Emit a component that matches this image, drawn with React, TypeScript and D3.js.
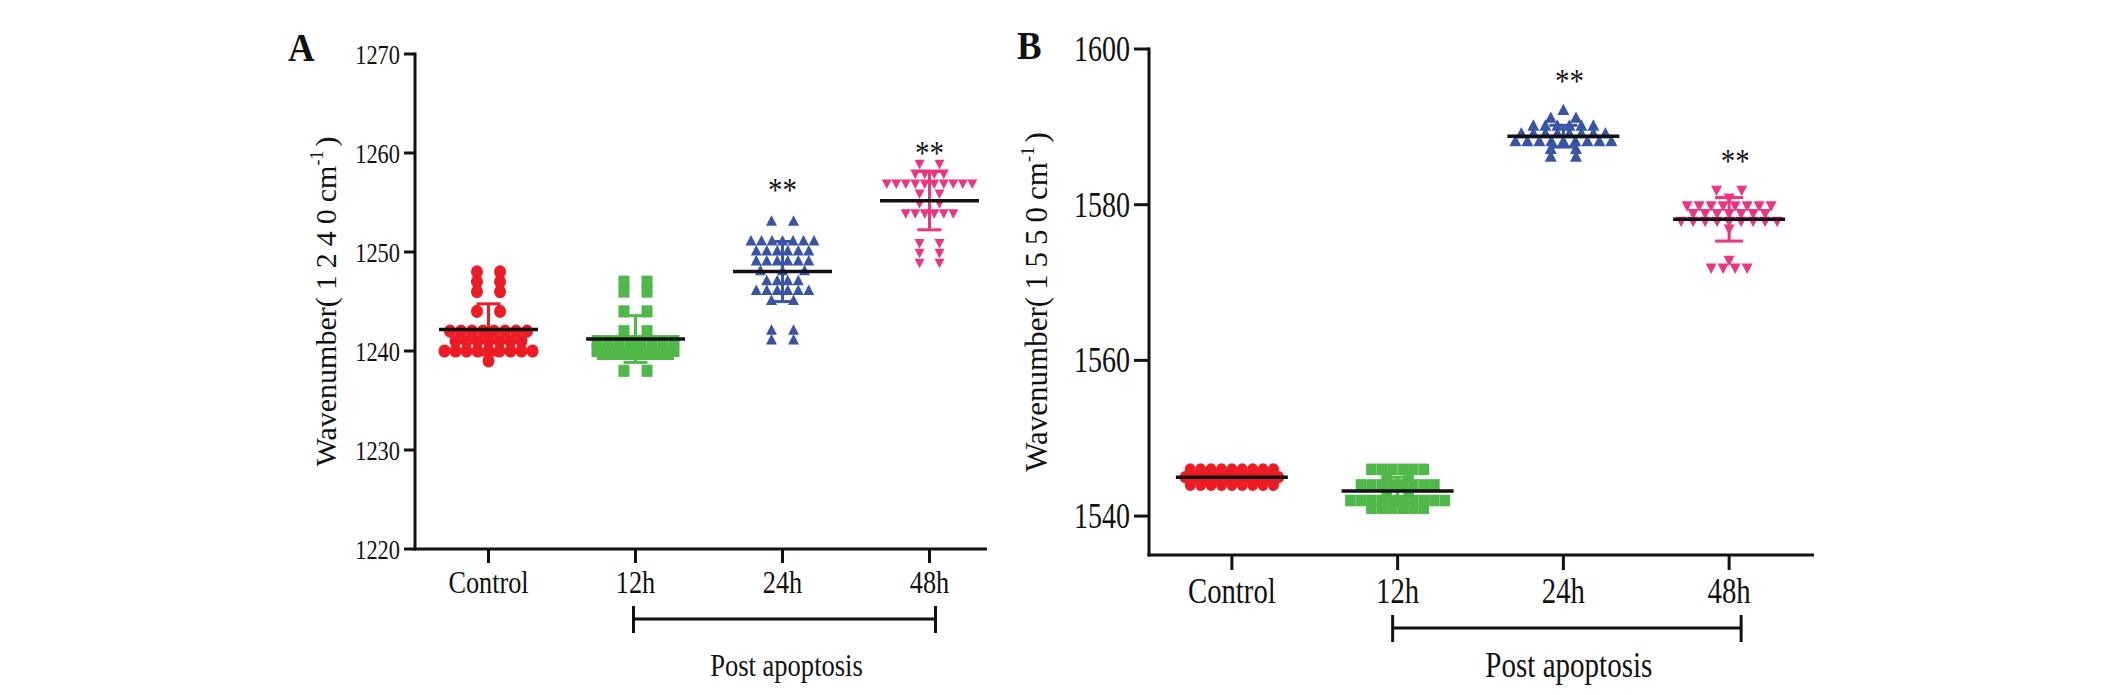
import * as d3 from 'd3';

// ---- data ----
const categories = ['Control', '12h', '24h', '48h'];
const groupColors = ['#ed1c24', '#4fb848', '#3a54a5', '#ec3580'];

const ticksA = [1220, 1230, 1240, 1250, 1260, 1270];
const ticksB = [1540, 1560, 1580, 1600];

// Panel A: wavenumber at 1240 cm-1
const aControl = [
  1248, 1248, 1247, 1247, 1246, 1246, 1244, 1244,
  1242, 1242, 1242, 1242, 1242, 1242, 1242, 1242,
  1241, 1241, 1241, 1241, 1241, 1241, 1241,
  1240, 1240, 1240, 1240, 1240, 1240, 1240, 1240, 1240,
  1239,
];
const a12h = [
  1247, 1247, 1246, 1246, 1244, 1244, 1242, 1242,
  1241, 1241, 1241, 1241, 1241, 1241, 1241, 1241,
  1240, 1240, 1240, 1240, 1240, 1240, 1240, 1240,
  1239.7, 1239.7, 1239.7, 1239.7, 1239.7, 1239.7, 1239.7,
  1238, 1238,
];
const a24h = [
  1253, 1253,
  1251, 1251, 1251, 1251, 1251, 1251, 1251,
  1250, 1250, 1250, 1250, 1250, 1250,
  1249, 1249, 1249, 1249, 1249, 1249,
  1248, 1248, 1248,
  1247, 1247, 1247, 1247,
  1246, 1246, 1246, 1246, 1246, 1246,
  1245, 1245, 1242, 1242, 1241, 1241,
];
const a48h = [
  1259, 1259,
  1258, 1258, 1258, 1258,
  1257, 1257, 1257, 1257, 1257, 1257, 1257, 1257, 1257, 1257,
  1256, 1256, 1255, 1255,
  1254, 1254, 1254, 1254, 1254, 1254,
  1251, 1251, 1250, 1250, 1249, 1249,
];
const starsA = [null, null, 1256.6, 1260.3];

// Panel B: wavenumber at 1550 cm-1
const bControl = [
  1546, 1546, 1546, 1546, 1546, 1546, 1546, 1546, 1546,
  1545, 1545, 1545, 1545, 1545, 1545, 1545, 1545, 1545, 1545,
  1544, 1544, 1544, 1544, 1544, 1544, 1544, 1544, 1544,
];
const b12h = [
  1546, 1546, 1546, 1546, 1546, 1546,
  1545, 1545,
  1544, 1544, 1544, 1544, 1544, 1544, 1544, 1544,
  1543, 1543,
  1542, 1542, 1542, 1542, 1542, 1542, 1542, 1542, 1542, 1542,
  1541, 1541, 1541, 1541, 1541, 1541,
];
const b24h = [
  1592, 1591, 1591,
  1590, 1590, 1590, 1590, 1590, 1590,
  1589, 1589, 1589, 1589, 1589, 1589, 1589, 1589,
  1588, 1588, 1588, 1588, 1588, 1588, 1588, 1588, 1588,
  1587, 1587, 1586, 1586,
];
const b48h = [
  1582, 1582, 1581,
  1580, 1580, 1580, 1580, 1580, 1580, 1580, 1580,
  1579, 1579, 1579, 1579, 1579, 1579, 1579,
  1578, 1578, 1578, 1578, 1578, 1578, 1578, 1578, 1578,
  1577, 1573, 1572, 1572, 1572, 1572,
];
const starsB = [null, null, 1596.3, 1586];

// ---- layout ----
const FONT = '"Liberation Serif", "Times New Roman", serif';
const SX = 0.8; // horizontal squeeze of the printed text

type Cfg = {
  letter: string;
  letterX: number;
  letterY: number;
  axisX: number;
  top: number;
  bottom: number;
  right: number;
  bandRight: number;
  domain: [number, number];
  ticks: number[];
  yTickLen: number;
  xTickLen: number;
  tickFont: number;
  catFont: number;
  catY: number;
  labelFont: number;
  labelX: number;
  labelText: string;
  meanW: number;
  capW: number;
  steps: number[];
  sizes: number[];
  groups: number[][];
  stars: (number | null)[];
  starDx: number;
  bracketY: number;
  bracketPad: [number, number];
  postY: number;
  postFont: number;
};

const panelA: Cfg = {
  letter: 'A', letterX: 288, letterY: 61,
  axisX: 415, top: 54, bottom: 549, right: 987, bandRight: 1003,
  domain: [1220, 1270], ticks: ticksA,
  yTickLen: 11, xTickLen: 14, tickFont: 28, catFont: 32, catY: 593,
  labelFont: 30, labelX: 336, labelText: '1240',
  meanW: 99, capW: 24,
  steps: [11, 11, 10.5, 9.5],
  sizes: [12, 11, 11, 10],
  groups: [aControl, a12h, a24h, a48h],
  stars: starsA, starDx: 0,
  bracketY: 619, bracketPad: [-2, 6], postY: 676, postFont: 32,
};

const panelB: Cfg = {
  letter: 'B', letterX: 1017, letterY: 59,
  axisX: 1149, top: 49, bottom: 555, right: 1814, bandRight: 1812,
  domain: [1535, 1600], ticks: ticksB,
  yTickLen: 15, xTickLen: 15, tickFont: 35, catFont: 35, catY: 603,
  labelFont: 31, labelX: 1047, labelText: '1550',
  meanW: 112, capW: 28,
  steps: [10.4, 10.5, 12, 12],
  sizes: [11, 10.5, 12, 11],
  groups: [bControl, b12h, b24h, b48h],
  stars: starsB, starDx: 6,
  bracketY: 628, bracketPad: [-5, 12], postY: 677, postFont: 35,
};

function markerPath(kind: number, size: number) {
  if (kind === 0) return d3.symbol(d3.symbolCircle, (Math.PI * size * size) / 4)()!;
  if (kind === 1) return d3.symbol(d3.symbolSquare, size * size)()!;
  return d3.symbol(d3.symbolTriangle, (Math.sqrt(3) / 4) * size * size)()!;
}

// column-scatter layout: equal values share a row, sparse rows spread wider
function spread(values: number[], step: number) {
  const counts = d3.rollup(values, (v) => v.length, (d) => d);
  const seen = new Map<number, number>();
  return values.map((v) => {
    const n = counts.get(v)!;
    const i = seen.get(v) ?? 0;
    seen.set(v, i + 1);
    const s = n <= 3 ? step * 2.1 : step;
    return { v, dx: (i - (n - 1) / 2) * s };
  });
}

function Panel({ c }: { c: Cfg }) {
  const y = d3.scaleLinear().domain(c.domain).range([c.bottom, c.top]);
  const x = d3.scaleBand<string>().domain(categories).range([c.axisX, c.bandRight]);
  const cx = (k: string) => x(k)! + x.bandwidth() / 2;
  const midY = (c.top + c.bottom) / 2;
  const bl = cx('12h') + c.bracketPad[0];
  const br = cx('48h') + c.bracketPad[1];

  return (
    <g fontFamily={FONT} fill="#111">
      <text
        transform={`translate(${c.letterX},${c.letterY}) scale(0.92,1)`}
        fontSize={40}
        fontWeight="bold"
      >
        {c.letter}
      </text>

      {/* y axis */}
      <line x1={c.axisX} x2={c.axisX} y1={c.top - 1.5} y2={c.bottom + 1.5} stroke="#111" strokeWidth={3} />
      {c.ticks.map((t) => (
        <g key={t}>
          <line x1={c.axisX - c.yTickLen} x2={c.axisX} y1={y(t)} y2={y(t)} stroke="#111" strokeWidth={3} />
          <text
            transform={`translate(${c.axisX - c.yTickLen - 4},${y(t) + c.tickFont * 0.34}) scale(${SX},1)`}
            fontSize={c.tickFont}
            textAnchor="end"
          >
            {t}
          </text>
        </g>
      ))}

      {/* x axis */}
      <line x1={c.axisX - 1.5} x2={c.right} y1={c.bottom} y2={c.bottom} stroke="#111" strokeWidth={3} />
      {categories.map((k) => (
        <g key={k}>
          <line x1={cx(k)} x2={cx(k)} y1={c.bottom} y2={c.bottom + c.xTickLen} stroke="#111" strokeWidth={3} />
          <text transform={`translate(${cx(k)},${c.catY}) scale(${SX + 0.02},1)`} fontSize={c.catFont} textAnchor="middle">
            {k}
          </text>
        </g>
      ))}

      {/* scatter, SD bars and means */}
      {c.groups.map((vals, gi) => {
        const k = categories[gi];
        const px = cx(k);
        const m = d3.mean(vals)!;
        const sd = d3.deviation(vals)!;
        const d = markerPath(gi, c.sizes[gi]);
        const rot = gi === 3 ? ' rotate(180)' : '';
        const col = groupColors[gi];
        return (
          <g key={k}>
            {spread(vals, c.steps[gi]).map((p, i) => (
              <path
                key={i}
                d={d}
                fill={col}
                transform={`translate(${px + p.dx},${y(p.v)}) scale(1,1.1)${rot}`}
              />
            ))}
            <g stroke={col} strokeWidth={3}>
              <line x1={px} x2={px} y1={y(m + sd)} y2={y(m - sd)} />
              <line x1={px - c.capW / 2} x2={px + c.capW / 2} y1={y(m + sd)} y2={y(m + sd)} />
              <line x1={px - c.capW / 2} x2={px + c.capW / 2} y1={y(m - sd)} y2={y(m - sd)} />
            </g>
            <line x1={px - c.meanW / 2} x2={px + c.meanW / 2} y1={y(m)} y2={y(m)} stroke="#111" strokeWidth={3.5} />
            {c.stars[gi] != null && (
              <text
                transform={`translate(${px + c.starDx},${y(c.stars[gi]!) + 14}) scale(0.85,1)`}
                fontSize={34}
                textAnchor="middle"
              >
                **
              </text>
            )}
          </g>
        );
      })}

      {/* Post apoptosis bracket */}
      <g stroke="#111" strokeWidth={3}>
        <line x1={bl} x2={br} y1={c.bracketY} y2={c.bracketY} />
        <line x1={bl} x2={bl} y1={c.bracketY - 13} y2={c.bracketY + 14} />
        <line x1={br} x2={br} y1={c.bracketY - 13} y2={c.bracketY + 14} />
      </g>
      <text
        transform={`translate(${(bl + br) / 2 + 2},${c.postY}) scale(${SX + 0.03},1)`}
        fontSize={c.postFont}
        textAnchor="middle"
      >
        Post apoptosis
      </text>

      {/* y axis title */}
      <text transform={`translate(${c.labelX},${midY}) rotate(-90)`} fontSize={c.labelFont} textAnchor="middle">
        <tspan>Wavenumber</tspan>
        <tspan letterSpacing={7}>{`(${c.labelText}`}</tspan>
        <tspan>cm</tspan>
        <tspan fontSize={c.labelFont * 0.6} dy={-c.labelFont * 0.42}>-1</tspan>
        <tspan dy={c.labelFont * 0.42} dx={4}>)</tspan>
      </text>
    </g>
  );
}

export default function App() {
  return (
    <svg
      width={2126}
      height={695}
      viewBox="0 0 2126 695"
      style={{ position: 'absolute', left: 0, top: 0, background: '#fff' }}
    >
      <rect width={2126} height={695} fill="#fff" />
      <Panel c={panelA} />
      <Panel c={panelB} />
    </svg>
  );
}
